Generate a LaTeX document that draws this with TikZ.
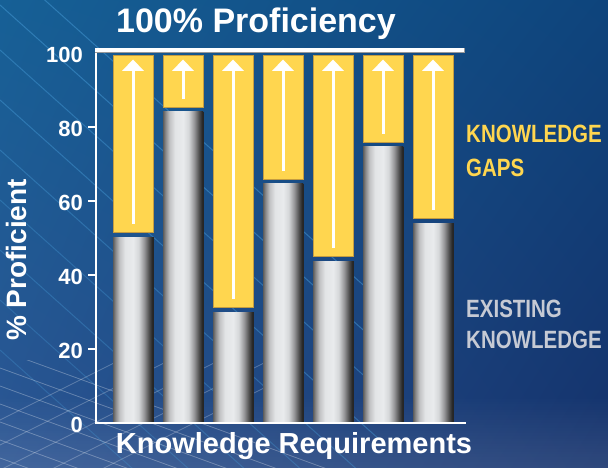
\documentclass[tikz,border=0pt]{standalone}
\usepackage{fontspec}
\setmainfont{Liberation Sans}
\newfontfamily\narrowfont[FakeStretch=0.82]{Liberation Sans}
\usetikzlibrary{shadings,fadings}
\definecolor{bgUL}{RGB}{22,96,150}
\definecolor{bgUR}{RGB}{14,68,124}
\definecolor{bgLL}{RGB}{44,84,146}
\definecolor{bgLR}{RGB}{22,50,108}
\definecolor{lineBlue}{RGB}{70,155,215}
\definecolor{gapY}{RGB}{255,214,79}
\definecolor{gapEdge}{RGB}{196,156,64}
\definecolor{exGray}{RGB}{198,202,212}
\definecolor{bA}{RGB}{92,92,92}
\definecolor{bB}{RGB}{135,135,136}
\definecolor{bC}{RGB}{192,193,195}
\definecolor{bD}{RGB}{226,228,230}
\definecolor{bE}{RGB}{233,235,237}
\definecolor{bF}{RGB}{214,216,218}
\definecolor{bG}{RGB}{150,150,152}
\definecolor{bH}{RGB}{78,78,78}
\definecolor{bI}{RGB}{28,28,28}
\pgfdeclarehorizontalshading{barshade}{100bp}{color(0bp)=(bA); color(25bp)=(bA); color(28bp)=(bB); color(33bp)=(bC); color(40bp)=(bD); color(50bp)=(bE); color(57bp)=(bF); color(64bp)=(bG); color(70bp)=(bH); color(75bp)=(bI); color(100bp)=(bI)}
\tikzset{
  ticklbl/.style={anchor=east, inner sep=0pt, text=white, font=\bfseries\fontsize{22}{22}\selectfont},
  gapbox/.style={fill=gapY, draw=gapEdge, line width=0.6pt},
  barbox/.style={shading=barshade},
  upshaft/.style={draw=white, line width=3pt},
  legY/.style={anchor=base west, inner sep=0pt, text=gapY, font=\narrowfont\bfseries\fontsize{25}{25}\selectfont},
  legG/.style={anchor=base west, inner sep=0pt, text=exGray, font=\narrowfont\bfseries\fontsize{25}{25}\selectfont},
  deco/.style={draw=lineBlue, line width=1pt}
}
\begin{document}
\begin{tikzpicture}[x=1pt,y=-1pt]
\useasboundingbox (0,0) rectangle (608,468);
% background
\shade[upper left=bgUL, upper right=bgUR, lower left=bgLL, lower right=bgLR] (0,0) rectangle (608,468);
\fill[white, opacity=0.11, path fading=north] (0,395) rectangle (608,468);
\begin{scope}
  \clip (0,0) rectangle (400,468);
  \foreach \k/\o in {-40/0.5,5/0.5,50/0.45,100/0.45,150/0.4,200/0.35,250/0.35,300/0.3,350/0.3} {
    \draw[deco, opacity=\o] (0,\k) -- ++(380,340);
  }
\end{scope}
\begin{scope}
  \clip (0,360) rectangle (330,468);
  \foreach \k in {350,368,386,404,422,440,458} {
    \draw[white, opacity=0.28, line width=0.8pt] (0,\k) -- ++(330,120);
  }
  \foreach \k in {420,445,470,495,520} {
    \draw[white, opacity=0.25, line width=0.8pt] (0,\k) -- ++(300,-150);
  }
\end{scope}
% bars
\foreach \i/\t in {0/237,1/112,2/312,3/184,4/261,5/147,6/223} {
  \pgfmathsetmacro\xl{113+50*\i}
  \pgfmathsetmacro\xc{\xl+20}
  \pgfmathsetmacro\xr{\xl+40}
  \pgfmathsetmacro\yb{\t-5}
  \pgfmathsetmacro\ys{\t-13}
  \shade[barbox] (\xl,\t) rectangle (\xr,422);
  \draw[black!85, line width=0.7pt] (\xr,\t) -- (\xr,422);
  \draw[gapbox] (\xl,55) rectangle (\xr,\yb);
  \draw[upshaft] (\xc,\ys) -- (\xc,69);
  \fill[white] (\xl+9,71) -- (\xr-9,71) -- (\xc,59.5) -- cycle;
}
% axes
\draw[white, line width=2pt] (96,49) -- (96,423) -- (466,423);
\draw[black!40, line width=5.5pt] (95,50.5) -- (464.5,50.5);
\draw[white, line width=4pt] (95,50.5) -- (464,50.5);
\foreach \v in {20,40,60,80} {
  \draw[white, line width=1.5pt] (88,{423-3.7*\v}) -- (96,{423-3.7*\v});
}
\foreach \v in {0,20,40,60,80,100} {
  \node[ticklbl] (lbl\v) at (83,{425-3.7*\v}) {\v};
}
% texts
\node[anchor=base, inner sep=0pt, text=white, font=\bfseries\fontsize{34}{34}\selectfont] (title) at (256,33) {100\% Proficiency};
\node[rotate=90, inner sep=0pt, text=white, font=\bfseries\fontsize{28}{28}\selectfont] (ylab) at (16,260) {\% Proficient};
\node[anchor=base, inner sep=0pt, text=white, font=\bfseries\fontsize{29}{29}\selectfont] (xlab) at (294,453) {Knowledge Requirements};
\node[legY] (gap1) at (466,143) {KNOWLEDGE};
\node[legY] (gap2) at (466,177) {GAPS};
\node[legG] (ex1) at (466,317) {EXISTING};
\node[legG] (ex2) at (466,348) {KNOWLEDGE};
\end{tikzpicture}
\end{document}
